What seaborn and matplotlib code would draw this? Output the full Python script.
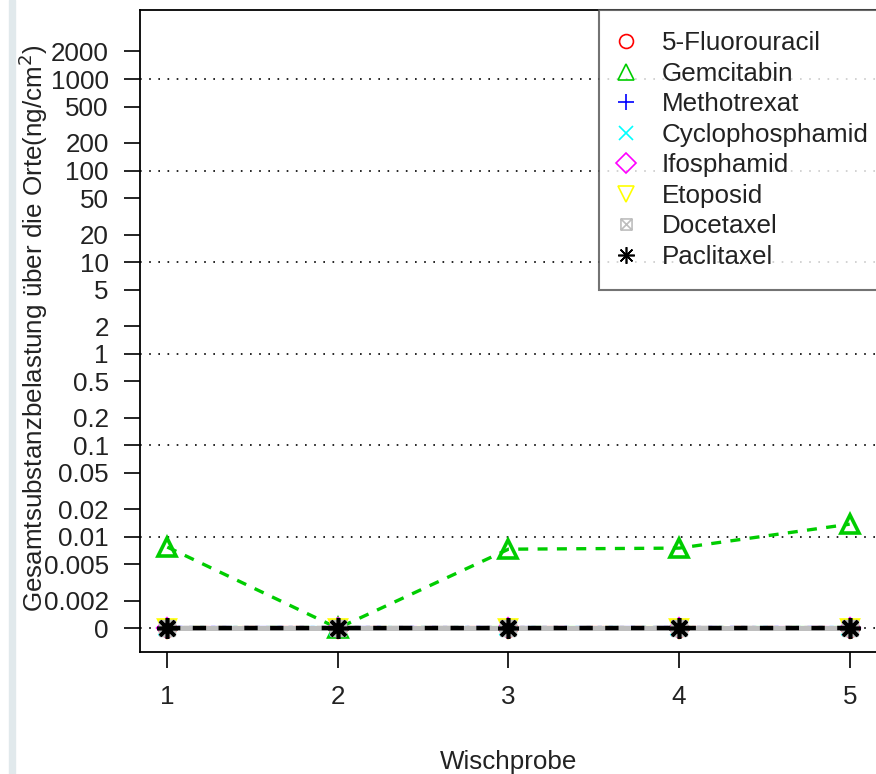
import numpy as np
import pandas as pd
import matplotlib
matplotlib.use("Agg")
import matplotlib.pyplot as plt
import seaborn as sns
from matplotlib.lines import Line2D
from matplotlib.path import Path
from matplotlib.patches import Rectangle

sns.set_style("white")
plt.rcParams['font.family'] = ['Liberation Sans', 'DejaVu Sans']

# data
wischprobe = [1, 2, 3, 4, 5]
substances = ["5-Fluorouracil", "Gemcitabin", "Methotrexat", "Cyclophosphamid",
              "Ifosphamid", "Etoposid", "Docetaxel", "Paclitaxel"]
fluorouracil = [0, 0, 0, 0, 0]
gemcitabin = [0.0077, 0, 0.0073, 0.0075, 0.0137]
methotrexat = [0, 0, 0, 0, 0]
cyclophosphamid = [0, 0, 0, 0, 0]
ifosphamid = [0, 0, 0, 0, 0]
etoposid = [0, 0, 0, 0, 0]
docetaxel = [0, 0, 0, 0, 0]
paclitaxel = [0, 0, 0, 0, 0]
series = [fluorouracil, gemcitabin, methotrexat, cyclophosphamid,
          ifosphamid, etoposid, docetaxel, paclitaxel]

ytick_vals = [0, 0.002, 0.005, 0.01, 0.02, 0.05, 0.1, 0.2, 0.5, 1, 2, 5,
              10, 20, 50, 100, 200, 500, 1000, 2000]
ytick_labels = ["0", "0.002", "0.005", "0.01", "0.02", "0.05", "0.1", "0.2",
                "0.5", "1", "2", "5", "10", "20", "50", "100", "200", "500",
                "1000", "2000"]
grid_vals = [0, 0.01, 0.1, 1, 10, 100, 1000]

ZERO = 0.001  # zero is drawn one decade below 0.01
FS = 18.7

def shift(v):
    v = np.asarray(v, dtype=float)
    return np.where(v == 0, ZERO, v)

# R-like marker "square with cross" (pch 7)
box_x = Path([(-1, -1), (1, -1), (1, 1), (-1, 1), (-1, -1),
              (-1, -1), (1, 1), (-1, 1), (1, -1)],
             [Path.MOVETO, Path.LINETO, Path.LINETO, Path.LINETO, Path.CLOSEPOLY,
              Path.MOVETO, Path.LINETO, Path.MOVETO, Path.LINETO])

colors = ["#FF0000", "#00CD00", "#0000FF", "#00FFFF", "#FF00FF", "#FFFF00",
          "#BEBEBE", "#000000"]
markers = ["o", "^", "+", "x", "D", "v", box_x, (8, 2, 0)]
linestyles = ["-", (0, (3, 2.8)), ":", "-.", (0, (6, 3)), (0, (2, 2, 6, 2)),
              "-", (0, (3, 2.8))]
widths = [3.4, 2.4, 3.0, 3.0, 3.0, 3.0, 3.6, 3.2]
msizes = [11, 13, 12, 11, 9, 11, 10, 15]
leg_sizes = [10, 11, 12, 10, 10, 11, 8, 12]

fig = plt.figure(figsize=(8.76, 7.74), dpi=100)
ax = fig.add_axes([140 / 876, 1 - 652 / 774, 737 / 876, 642 / 774])

for gv in grid_vals:
    ax.axhline(shift([gv])[0], color="black", lw=1.2, ls=(0, (1, 4.5)), zorder=1)

for name, vals, c, m, ls, lw, ms in zip(substances, series, colors, markers,
                                        linestyles, widths, msizes):
    df = pd.DataFrame({"x": wischprobe, "y": shift(vals)})
    sns.lineplot(data=df, x="x", y="y", ax=ax, color=c, linestyle=ls, lw=lw,
                 marker=m, markersize=ms, markerfacecolor="none",
                 markeredgecolor=c, markeredgewidth=2.6, zorder=3)

ax.set_yscale("log")
ax.set_ylim(10 ** -3.26, 10 ** 3.754)
ax.set_xlim(0.84, 5.16)
ax.set_yticks(shift(ytick_vals))
ax.set_yticklabels(ytick_labels)
ax.yaxis.set_minor_locator(matplotlib.ticker.NullLocator())
ax.set_xticks(wischprobe)
ax.set_xticklabels([str(w) for w in wischprobe])
ax.tick_params(axis="both", direction="out", length=11.5, width=1.2,
               labelsize=FS, colors="black", labelcolor="#222222",
               left=True, bottom=True)
ax.tick_params(axis="x", pad=12)
ax.tick_params(axis="y", pad=11)
for s in ax.spines.values():
    s.set_color("black")
    s.set_linewidth(1.3)

ax.set_xlabel("Wischprobe", fontsize=FS, va="center", color="#222222")
ax.xaxis.set_label_coords(0.5, -0.171)
ax.set_ylabel("Gesamtsubstanzbelastung über die Orte(ng/cm$^2$)", fontsize=FS,
              va="center", color="#222222")
ax.yaxis.set_label_coords((33 - 140) / 737, 0.505)

handles = []
for name, c, m, ms in zip(substances, colors, markers, leg_sizes):
    handles.append(Line2D([], [], linestyle="none", marker=m, markersize=ms,
                          markerfacecolor="none", markeredgecolor=c,
                          markeredgewidth=1.2, label=name))
leg = ax.legend(handles=handles, loc="upper right",
                bbox_to_anchor=(1 + 13 / 737, 1),
                borderaxespad=0, fontsize=FS, frameon=True, fancybox=False,
                borderpad=0.82, labelspacing=0.25, handlelength=0.45,
                handletextpad=1.15)
leg.get_frame().set_edgecolor("#505050")
leg.get_frame().set_linewidth(1.5)
for t in leg.get_texts():
    t.set_color("#222222")
leg.set_zorder(5)

fig.patches.append(Rectangle((9 / 876, 0), 6 / 876, 1, transform=fig.transFigure,
                             color="#e1e9ec", zorder=0))

fig.savefig("out.png", dpi=100)
